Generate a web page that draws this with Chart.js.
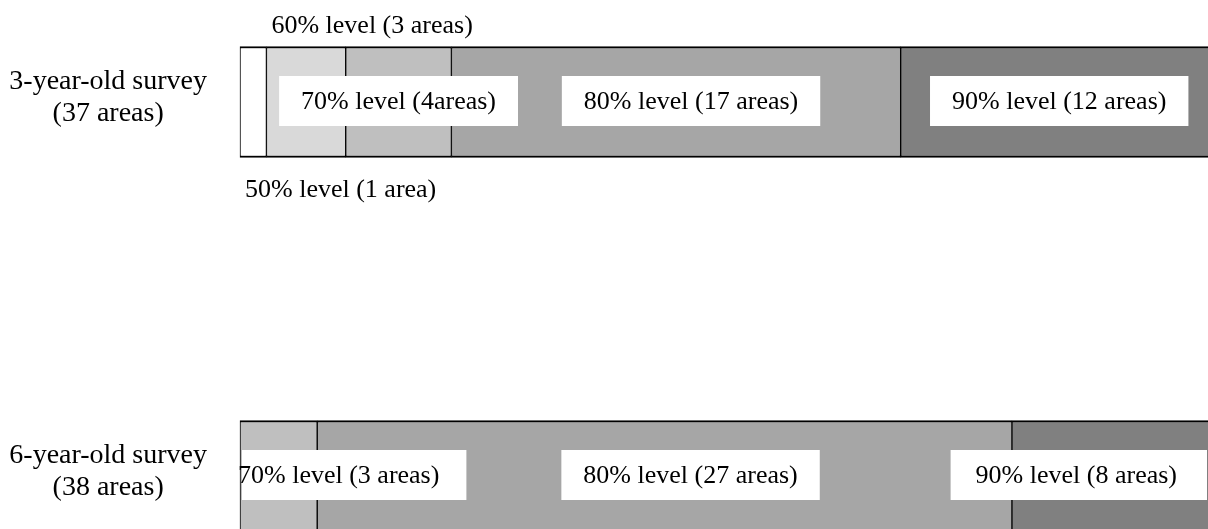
<!DOCTYPE html>
<html>
<head>
<meta charset="utf-8">
<script src="https://cdn.jsdelivr.net/npm/chart.js@4.4.1/dist/chart.umd.min.js"></script>
<style>
  html, body { margin: 0; padding: 0; background: #fff; overflow: hidden; }
  #wrap { width: 1208px; height: 529px; position: relative; }
</style>
</head>
<body>
<div id="wrap"><canvas id="levels"></canvas></div>
<script>
// survey rows (y-axis tick labels)
const surveyLabels = [
    ['3-year-old survey', '(37 areas)'],
    ['6-year-old survey', '(38 areas)']
];

// achievement levels, one stacked segment each
const levelNames = ['50% level', '60% level', '70% level', '80% level', '90% level'];
const levelColors = ['#ffffff', '#d9d9d9', '#bfbfbf', '#a6a6a6', '#808080'];

// number of areas per level
const threeYearAreas = [1, 3, 4, 17, 12];
const sixYearAreas = [0, 0, 3, 27, 8];

// text written on / next to each segment
const threeYearNotes = ['50% level (1 area)', '60% level (3 areas)', '70% level (4areas)', '80% level (17 areas)', '90% level (12 areas)'];
const sixYearNotes = [null, null, '70% level (3 areas)', '80% level (27 areas)', '90% level (8 areas)'];

const rows = [threeYearAreas, sixYearAreas];
const notes = [threeYearNotes, sixYearNotes];
// where the note goes for each segment (small ones are put outside the bar)
const notePlace = [
    ['below', 'above', 'inside', 'inside', 'inside'],
    [null, null, 'inside', 'inside', 'inside']
];
// small sideways nudge of the inside boxes, px
const noteNudge = [
    [0, 0, 0, 15, 0],
    [0, 0, 0, 26, 0]
];

const SERIF = "'Liberation Serif', 'Times New Roman', serif";

// each bar shows the share of its own total, so both fill the same width
function share(row, i) {
    const total = row.reduce((a, b) => a + b, 0);
    return row[i] ? row[i] / total * 100 : null;
}

const datasets = levelNames.map((name, i) => ({
    label: name,
    data: rows.map(r => share(r, i)),
    backgroundColor: levelColors[i],
    borderColor: '#000000',
    borderWidth: { top: 2, bottom: 2, left: 1, right: 1 },
    borderSkipped: false,
    barThickness: 111,
    clip: false
}));

const segmentNotes = {
    id: 'segmentNotes',
    afterDatasetsDraw(chart) {
        const ctx = chart.ctx;
        const area = chart.chartArea;
        ctx.save();
        ctx.font = '26px ' + SERIF;
        ctx.textBaseline = 'alphabetic';
        chart.data.datasets.forEach((ds, i) => {
            const meta = chart.getDatasetMeta(i);
            meta.data.forEach((bar, r) => {
                const text = notes[r][i];
                const place = notePlace[r][i];
                if (!text || !place) return;
                const p = bar.getProps(['x', 'y', 'base', 'height'], true);
                const left = Math.min(p.x, p.base);
                const right = Math.max(p.x, p.base);
                const top = p.y - p.height / 2;
                const bottom = p.y + p.height / 2;
                const w = ctx.measureText(text).width;
                ctx.fillStyle = '#000';
                ctx.textAlign = 'left';
                if (place === 'above') {
                    ctx.fillText(text, left + 5, top - 14);
                    return;
                }
                if (place === 'below') {
                    ctx.fillText(text, left + 5, bottom + 39);
                    return;
                }
                const boxH = 50;
                const by = p.y - boxH / 2 - 1;
                let boxW = w + 44;
                let bx = (left + right) / 2 + noteNudge[r][i] - boxW / 2;
                let tx = bx + 22;
                if (bx < area.left + 2) {
                    // pushed against the left edge: text hangs a little past the box
                    bx = area.left + 2;
                    tx = area.left - 2;
                    boxW = tx + w + 27 - bx;
                } else if (bx + boxW > area.right - 1) {
                    boxW = w + 55;
                    bx = area.right - 1 - boxW;
                    tx = bx + 25;
                }
                ctx.fillStyle = '#ffffff';
                ctx.fillRect(bx, by, boxW, boxH);
                ctx.fillStyle = '#000';
                ctx.fillText(text, tx, p.y + 7);
            });
        });
        ctx.restore();
    }
};

new Chart(document.getElementById('levels'), {
    type: 'bar',
    data: {
        labels: surveyLabels,
        datasets: datasets
    },
    options: {
        indexAxis: 'y',
        responsive: true,
        maintainAspectRatio: false,
        animation: false,
        layout: {
            padding: { top: 102, bottom: 53, left: 0, right: 0 }
        },
        scales: {
            x: {
                stacked: true,
                display: false,
                min: 0,
                max: 99
            },
            y: {
                stacked: true,
                offset: false,
                grid: { display: false, drawTicks: false },
                border: { display: false },
                afterFit(scale) {
                    scale.width = 240;
                    // labels may hang past the plot edges, no extra room needed
                    scale.paddingTop = 0;
                    scale.paddingBottom = 0;
                },
                ticks: {
                    crossAlign: 'center',
                    padding: 33,
                    labelOffset: -4,
                    color: '#000',
                    font: { family: SERIF, size: 28, lineHeight: 1.14 }
                }
            }
        },
        plugins: {
            legend: { display: false },
            tooltip: { enabled: false }
        }
    },
    plugins: [segmentNotes]
});
</script>
</body>
</html>
